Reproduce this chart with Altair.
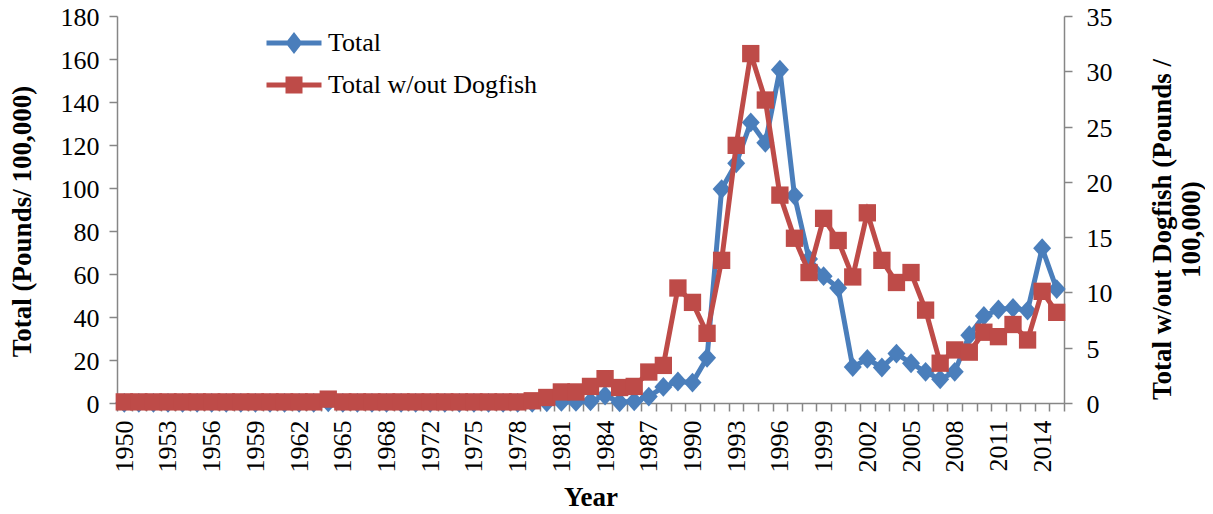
import altair as alt
import pandas as pd

# ---------------- data ----------------
years = [str(y) for y in list(range(1950, 1971)) + list(range(1972, 2016))]

total = (
    [0.1] * 14 + [0.3] + [0.1] * 6          # 1950-1970
    + [0.1] * 8 + [0.3]                     # 1972-1980
    + [0.5, 0.5, 0.8, 3.5, 0.3, 0.8, 3.0, 7.5, 10.0, 9.5,      # 1981-1990
       21.0, 99.5, 111.5, 130.5, 121.0, 155.0, 96.5, 67.0, 59.0, 53.5,  # 1991-2000
       16.7, 20.5, 16.5, 23.0, 18.5, 14.5, 11.0, 14.5, 31.5, 40.5,  # 2001-2010
       43.5, 44.2, 43.0, 72.0, 53.0]          # 2011-2015
)

nodog = (
    [0.1] * 14 + [0.35] + [0.1] * 6         # 1950-1970
    + [0.1] * 7 + [0.2, 0.5]                # 1972-1980
    + [1.0, 1.0, 1.5, 2.2, 1.4, 1.5, 2.8, 3.4, 10.4, 9.1,      # 1981-1990
       6.3, 12.9, 23.3, 31.6, 27.4, 18.8, 14.9, 11.8, 16.7, 14.7,  # 1991-2000
       11.4, 17.2, 12.9, 10.9, 11.8, 8.4, 3.6, 4.8, 4.6, 6.4,   # 2001-2010
       6.0, 7.1, 5.7, 10.1, 8.2]               # 2011-2015
)

label_years = ["1950", "1953", "1956", "1959", "1962", "1965", "1968", "1972",
               "1975", "1978", "1981", "1984", "1987", "1990", "1993", "1996",
               "1999", "2002", "2005", "2008", "2011", "2014"]

series_names = ["Total", "Total w/out Dogfish"]
left_ticks = [0, 20, 40, 60, 80, 100, 120, 140, 160, 180]
right_ticks = [0, 5, 10, 15, 20, 25, 30, 35]

BLUE = "#4A7EBB"
RED = "#BE4B48"
AXIS = "#868686"
FONT = "Liberation Serif"

df = pd.DataFrame({"year": years, "total": total, "nodog": nodog})
legend_df = pd.DataFrame({"series": series_names, "year": ["1950", "1950"], "total": [0, 0]})

label_list = "[" + ",".join("'%s'" % y for y in label_years) + "]"

common_axis = dict(
    domainColor=AXIS, domainWidth=1.5, tickColor=AXIS, tickWidth=1.5, tickSize=8,
    labelFont=FONT, labelFontSize=26, labelColor="black", grid=False,
    titleFont=FONT, titleFontSize=27, titleFontWeight="bold", titleColor="black",
)

x_enc = alt.X(
    "year:O",
    bandPosition=0.5,
    scale=alt.Scale(type="band", domain=years, paddingInner=0, paddingOuter=0),
    axis=alt.Axis(
        title="Year",
        labelExpr="indexof(%s, datum.label) >= 0 ? datum.label : ''" % label_list,
        tickBand="extent",
        labelAngle=270,
        labelAlign="right",
        labelBaseline="middle",
        labelPadding=9,
        labelOverlap=False,
        titleY=94,
        titleBaseline="middle",
        **common_axis,
    ),
)

y_left = alt.Y(
    "total:Q",
    scale=alt.Scale(domain=[0, 180], nice=False, zero=True),
    axis=alt.Axis(
        title="Total (Pounds/ 100,000)",
        values=left_ticks,
        labelPadding=10,
        labelOffset=1.5,
        titleAngle=270,
        titleX=-95,
        titleY=205,
        titleAlign="center",
        titleBaseline="middle",
        **common_axis,
    ),
)

y_right = alt.Y(
    "nodog:Q",
    scale=alt.Scale(domain=[0, 35], nice=False, zero=True),
    axis=alt.Axis(
        orient="right",
        title=["Total w/out Dogfish (Pounds /", "100,000)"],
        values=right_ticks,
        labelPadding=14,
        labelOffset=1.5,
        titleAngle=270,
        titleX=98,
        titleY=213,
        titleAlign="center",
        titleBaseline="middle",
        titleLineHeight=29,
        **common_axis,
    ),
)

DIAMOND = "M0,-1.1L1,0L0,1.1L-1,0Z"
LEG_TOTAL = "M-1.375,-0.125H1.375V0.125H-1.375Z M0,-0.55L0.425,0L0,0.55L-0.425,0Z"
LEG_NODOG = "M-1.375,-0.125H1.375V0.125H-1.375Z M-0.425,-0.425H0.425V0.425H-0.425Z"

leg = alt.Legend(
    orient="none", legendX=157, legendY=7, title=None, padding=0,
    labelFont=FONT, labelFontSize=26, labelColor="black", labelLimit=0,
    symbolSize=1600, symbolOpacity=1, symbolStrokeWidth=0,
    labelOffset=14, rowPadding=9,
)

blue_line = alt.Chart(df).mark_line(color=BLUE, strokeWidth=5).encode(x=x_enc, y=y_left)
blue_pts = alt.Chart(df).mark_point(
    shape=DIAMOND, filled=True, size=324, color=BLUE, opacity=1
).encode(x=x_enc, y=y_left)

legend_layer = alt.Chart(legend_df).mark_point(filled=True, opacity=1).encode(
    x=x_enc,
    y=y_left,
    color=alt.Color("series:N", scale=alt.Scale(domain=series_names, range=[BLUE, RED]), legend=leg),
    shape=alt.Shape("series:N", scale=alt.Scale(domain=series_names, range=[LEG_TOTAL, LEG_NODOG]), legend=leg),
).transform_filter("datum.total > 100000")

red_line = alt.Chart(df).mark_line(color=RED, strokeWidth=5).encode(x=x_enc, y=y_right)
red_pts = alt.Chart(df).mark_point(
    shape="square", filled=True, size=300, color=RED, opacity=1
).encode(x=x_enc, y=y_right)

chart = (
    alt.layer(
        alt.layer(blue_line, blue_pts, legend_layer),
        alt.layer(red_line, red_pts),
    )
    .resolve_scale(y="independent")
    .properties(
        width=947,
        height=387,
        padding={"left": 109, "top": 8, "right": 141, "bottom": 111},
        autosize=alt.AutoSizeParams(type="none"),
        background="white",
    )
    .configure_view(stroke=None)
)

chart.save("out.html", embed_options={"renderer": "svg", "actions": False})
